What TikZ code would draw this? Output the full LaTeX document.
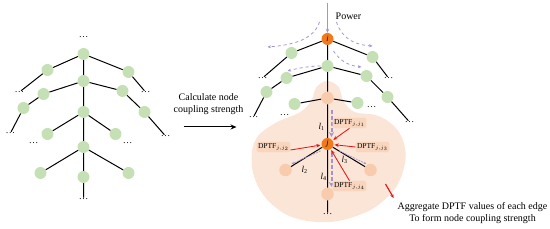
\documentclass[tikz,border=0pt]{standalone}
\usepackage{fontspec}
\setmainfont{Liberation Serif}
\usetikzlibrary{arrows.meta}

\definecolor{leaf}{HTML}{C5E0B4}
\definecolor{hot}{HTML}{F07A1C}
\definecolor{peach}{HTML}{F8CBAD}
\definecolor{blob}{HTML}{FBE5D6}
\definecolor{lilac}{HTML}{A593CF}
\definecolor{alert}{HTML}{E81010}

\begin{document}
\begin{tikzpicture}[
  x=1pt, y=-1pt,
  font=\fontsize{10}{12}\selectfont,
  gnode/.style={circle, fill=leaf, minimum size=12pt, inner sep=0pt},
  pnode/.style={circle, fill=peach, minimum size=12.5pt, inner sep=0pt},
  onode/.style={circle, fill=hot, minimum size=12pt, inner sep=0pt,
                font=\fontsize{8}{8}\selectfont\itshape},
  more/.style ={inner sep=0.5pt, font=\fontsize{9.5}{9.5}\selectfont},
  dptf/.style ={rectangle, rounded corners=1.5pt, fill=peach!80, inner sep=1.4pt,
                font=\fontsize{7.5}{8}\selectfont},
  lbl/.style  ={inner sep=0pt, font=\fontsize{9}{9}\selectfont},
  link/.style ={line width=1pt, draw=black},
  flow/.style ={-{Stealth[length=3.5pt, width=3pt]}, dashed, line width=0.8pt, draw=lilac},
  trunk/.style={-{Stealth[length=5pt, width=5pt]}, dash pattern=on 4pt off 2pt,
                line width=2pt, draw=lilac},
  thin/.style ={-{Stealth[length=3pt, width=2.5pt]}, dash pattern=on 2pt off 1pt,
                line width=0.7pt, draw=lilac},
  push/.style ={-{Stealth[length=4pt, width=3.5pt]}, line width=0.8pt, draw=alert,
                shorten >=1pt},
  go/.style   ={-{Stealth[length=6pt, width=5pt]}, line width=1pt, draw=black},
]
\useasboundingbox (-0.5,0) rectangle (549.5,229);

% ---- left tree ----
\node[more]  (Lt)  at (83,37)  {\dots};
\node[gnode] (L0)  at (83,54)  {};
\node[gnode] (La)  at (47,70)  {};
\node[gnode] (Lb)  at (128,72) {};
\node[more]  (Lad) at (19,92)  {\dots};
\node[more]  (Lbd) at (145,92) {\dots};
\node[gnode] (L1)  at (83,81)  {};
\node[gnode] (Lc)  at (43,94)  {};
\node[gnode] (Ld)  at (23,108) {};
\node[more]  (Ldd) at (10,133) {\dots};
\node[gnode] (Le)  at (122,91) {};
\node[gnode] (Lf)  at (144,112){};
\node[more]  (Lfd) at (165,136){\dots};
\node[gnode] (L2)  at (83,112) {};
\node[gnode] (Lg)  at (47,134) {};
\node[gnode] (Lh)  at (115,134){};
\node[more]  (Lgd) at (33,143) {\dots};
\node[more]  (Lhd) at (127,143){\dots};
\node[gnode] (L3)  at (83,147) {};
\node[gnode] (Li)  at (40,173) {};
\node[gnode] (Lj)  at (83,177) {};
\node[gnode] (Lk)  at (128,173){};
\node[more]  (Ljd) at (83,199) {\dots};

\draw[link] (L0)--(La) (L0)--(Lb) (La)--(Lad) (Lb)--(Lbd);
\draw[link] (L0)--(L1) (L1)--(Lc) (Lc)--(Ld) (Ld)--(Ldd);
\draw[link] (L1)--(Le) (Le)--(Lf) (Lf)--(Lfd);
\draw[link] (L1)--(L2) (L2)--(Lg) (L2)--(Lh) (L2)--(L3);
\draw[link] (L3)--(Li) (L3)--(Lj) (L3)--(Lk) (Lj)--(Ljd);

% ---- middle step ----
\node[align=center] (calc) at (208,104) {Calculate node\\coupling strength};
\coordinate (c1) at (183,127);
\coordinate (c2) at (236,127);
\draw[go] (c1)--(c2);

% ---- coupled region ----
\fill[blob] plot[smooth cycle, tension=0.6] coordinates {
  (327,81) (338,87) (343,101) (354,112) (378,116) (397,130) (405,152)
  (401,176) (389,195) (366,212) (330,222) (294,218) (270,203) (256,183)
  (251,160) (256,138) (275,123) (300,112) (311,100) (316,87)};

% ---- right tree ----
\node[onode] (i)   at (327,39)  {i};
\node[gnode] (Ra)  at (291,53)  {};
\node[gnode] (Rb)  at (372,57)  {};
\node[more]  (Rad) at (262,78)  {\dots};
\node[more]  (Rbd) at (388,78)  {\dots};
\node[gnode] (R1)  at (327,66)  {};
\node[gnode] (Rc)  at (286,78)  {};
\node[gnode] (Rd)  at (266,92)  {};
\node[more]  (Rdd) at (253,117) {\dots};
\node[gnode] (Re)  at (366,76)  {};
\node[gnode] (Rf)  at (387,97)  {};
\node[more]  (Rfd) at (409,122) {\dots};
\node[pnode] (R2)  at (327,98)  {};
\node[gnode] (Rg)  at (294,104) {};
\node[gnode] (Rh)  at (357,103) {};
\node[more]  (Rgd) at (284,115) {\dots};
\node[more]  (Rhd) at (371,107) {\dots};
\node[onode] (j)   at (327,144) {j};
\node[pnode] (Ri)  at (285,170) {};
\node[pnode] (Rk)  at (370,170) {};
\node[pnode] (Rj)  at (327,194) {};
\node[more]  (Rjd) at (327,214) {\dots};

\draw[link] (i)--(Ra) (i)--(Rb) (Ra)--(Rad) (Rb)--(Rbd);
\draw[link] (i)--(R1) (R1)--(Rc) (Rc)--(Rd) (Rd)--(Rdd);
\draw[link] (R1)--(Re) (Re)--(Rf) (Rf)--(Rfd);
\draw[link] (R1)--(R2) (R2)--(Rg) (R2)--(Rh) (R2)--(j);
\draw[link] (j)--(Ri) (j)--(Rk) (j)--(Rj) (Rj)--(Rjd);

% ---- power flow ----
\coordinate (src) at (327,3);
\draw[-{Stealth[length=4pt, width=3.5pt]}, line width=0.8pt, draw=lilac] (src)--(i);
\node[anchor=west, inner sep=0pt] (pw) at (335,16) {Power};

\coordinate (f1a) at (319,22);  \coordinate (f1b) at (267,47);
\coordinate (f2a) at (336,22);  \coordinate (f2b) at (372,46);
\coordinate (f3a) at (333,51);  \coordinate (f3b) at (361,67);
\coordinate (f4a) at (320,66);  \coordinate (f4b) at (287,71);
\draw[flow] (f1a) .. controls (313,40) and (292,45) .. (f1b);
\draw[flow] (f2a) .. controls (342,40) and (356,45) .. (f2b);
\draw[flow] (f3a) .. controls (340,62) and (350,66) .. (f3b);
\draw[flow] (f4a) .. controls (310,66) and (298,68) .. (f4b);

\coordinate (t1a) at (331,110); \coordinate (t1b) at (331,137);
\coordinate (t2a) at (331,153); \coordinate (t2b) at (331,187);
\draw[trunk] (t1a)--(t1b);
\draw[trunk] (t2a)--(t2b);
\coordinate (s1a) at (320,151); \coordinate (s1b) at (291,164);
\coordinate (s2a) at (339,151); \coordinate (s2b) at (366,164);
\draw[thin] (s1a)--(s1b);
\draw[thin] (s2a)--(s2b);

% ---- edge labels ----
\node[lbl] (l1) at (321,127) {\textit{l}\textsubscript{1}};
\node[lbl] (l2) at (304,170) {\textit{l}\textsubscript{2}};
\node[lbl] (l3) at (344,160) {\textit{l}\textsubscript{3}};
\node[lbl] (l4) at (323,177) {\textit{l}\textsubscript{4}};

% ---- transfer factors ----
\node[dptf] (b1) at (349,123) {DPTF$_{\scriptscriptstyle j,j_1}$};
\node[dptf] (b3) at (273,147) {DPTF$_{\scriptscriptstyle j,j_2}$};
\node[dptf] (b2) at (372,147) {DPTF$_{\scriptscriptstyle j,j_3}$};
\node[dptf] (b4) at (349,186) {DPTF$_{\scriptscriptstyle j,j_4}$};
\draw[push] (b1.south) -- (j);
\draw[push] ([yshift=-3pt]b3.east) -- (j);
\draw[push] (b2.west) -- (j);
\draw[push] (b4.north) -- (j);

% ---- aggregation ----
\node[align=center] (agg) at (472,213)
  {Aggregate DPTF values of each edge\\To form node coupling strength};
\coordinate (rim) at (385,184);
\draw[push, line width=1.1pt] (rim) -- (agg.north west);

\end{tikzpicture}
\end{document}
